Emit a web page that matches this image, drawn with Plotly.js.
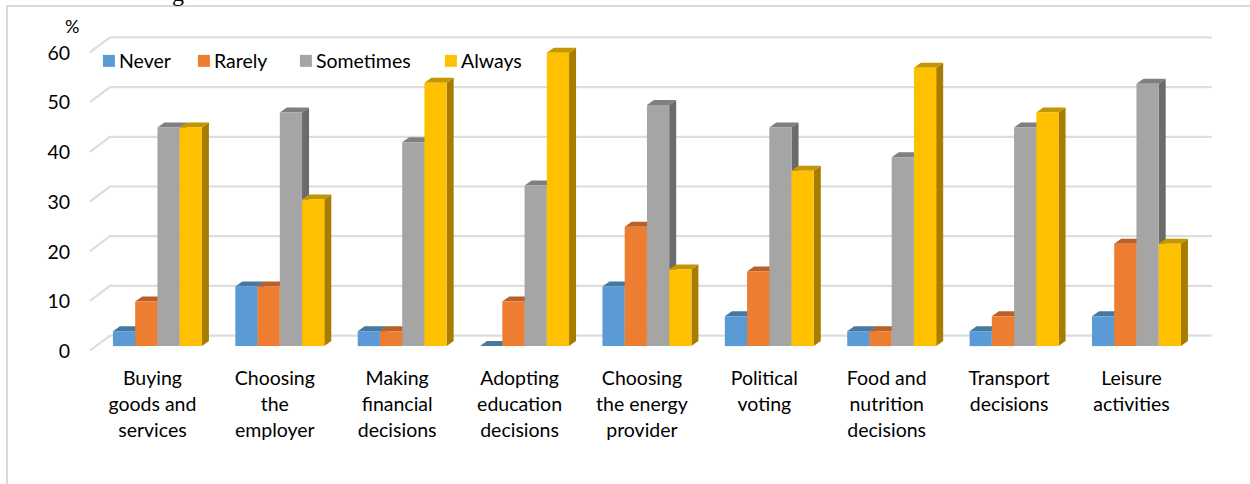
<!DOCTYPE html>
<html><head><meta charset="utf-8">
<script src="https://cdn.plot.ly/plotly-3.0.1.min.js"></script>
<style>html,body{margin:0;padding:0;background:#fff;overflow:hidden}</style>
</head><body><div id="chart" style="width:1250px;height:484px"></div>
<script>
const categories = [
  "Buying<br>goods and<br>services","Choosing<br>the<br>employer","Making<br>financial<br>decisions",
  "Adopting<br>education<br>decisions","Choosing<br>the energy<br>provider","Political<br>voting",
  "Food and<br>nutrition<br>decisions","Transport<br>decisions","Leisure<br>activities"];
const never     = [3, 12, 3, 0, 12, 6, 3, 3, 6];
const rarely    = [9, 12, 3, 9, 24, 15, 3, 6, 20.6];
const sometimes = [44, 47, 41, 32.3, 48.5, 44, 38, 44, 52.8];
const always    = [44, 29.5, 53, 59, 15.4, 35.3, 56, 47, 20.6];
const seriesNames = ["Never","Rarely","Sometimes","Always"];
const seriesValues = [never, rarely, sometimes, always];
const frontColors = ["#5B9BD5","#ED7D31","#A5A5A5","#FFC000"];
const topColors   = ["#47789F","#B95F27","#7F7F7F","#C49600"];
const sideColors  = ["#3B6A94","#A35422","#6B6B6B","#A67D00"];
const yTicks = [0,10,20,30,40,50,60];

// page geometry (pixels)
const W=1250,H=484, pxX=122.4, pxY=4.975, x0px=157.5, y0px=346.5;
const xr=[-0.6,8.65], yr=[-4,64];
const ml=x0px+xr[0]*pxX, mr=W-(x0px+xr[1]*pxX), mt=y0px-yr[1]*pxY, mb=H-(y0px-yr[0]*pxY);
const dx=px=>px/pxX, dy=px=>px/pxY;
const px2paperX=p=>(p-ml)/(W-ml-mr), px2paperY=p=>1-(p-mt)/(H-mt-mb);

const barW=0.727/4, depthX=7, depthY=5;
const shapes=[];
// frame
shapes.push({type:'path',xref:'paper',yref:'paper',layer:'below',line:{color:'#D9D9D9',width:2},
  path:`M${px2paperX(7)},${px2paperY(490)}L${px2paperX(7)},${px2paperY(6)}L${px2paperX(1255)},${px2paperY(6)}`});
// gridlines on floor/back wall
yTicks.forEach(v=>{
  const xa=xr[0]+dx(90-(x0px+xr[0]*pxX)), xb=xa+dx(20), xc=xa+dx(1122);
  const ya=v-dy(4.5), yb=v+dy(10.5);
  shapes.push({type:'path',xref:'x',yref:'y',layer:'below',line:{color:'#DDDDDD',width:2.2},
    path:`M${xa},${ya}L${xb},${yb}L${xc},${yb}`});
});
// bar sides and tops
categories.forEach((c,i)=>{
  seriesValues.forEach((vals,s)=>{
    const v=vals[i], l=i-0.727/2+s*barW, r=l+barW, ddx=dx(depthX), ddy=dy(depthY);
    shapes.push({type:'path',xref:'x',yref:'y',layer:'below',fillcolor:sideColors[s],line:{width:0},
      path:`M${r},0L${r+ddx},${ddy}L${r+ddx},${v+ddy}L${r},${v}Z`});
    shapes.push({type:'path',xref:'x',yref:'y',layer:'below',fillcolor:topColors[s],line:{width:0},
      path:`M${l},${v}L${l+ddx},${v+ddy}L${r+ddx},${v+ddy}L${r},${v}Z`});
  });
});
// legend
const legendSwatchPx=[103,198,300,445];
const legendTextPx=[117,212,314,459];
const annotations=[];
seriesNames.forEach((n,s)=>{
  shapes.push({type:'rect',xref:'paper',yref:'paper',layer:'above',fillcolor:frontColors[s],line:{width:0},
    x0:px2paperX(legendSwatchPx[s]),x1:px2paperX(legendSwatchPx[s]+12),y0:px2paperY(67),y1:px2paperY(55)});
  annotations.push({xref:'paper',yref:'paper',x:px2paperX(legendTextPx[s]),y:px2paperY(61),xanchor:'left',yanchor:'middle',
    showarrow:false,text:n,font:{family:'Lato, "Open Sans", sans-serif',size:19.5,color:'#000'}});
});
annotations.push({xref:'paper',yref:'paper',x:px2paperX(72),y:px2paperY(26),xanchor:'center',yanchor:'middle',showarrow:false,
  text:'%',font:{family:'Lato, sans-serif',size:18,color:'#000'}});
annotations.push({xref:'paper',yref:'paper',x:px2paperX(178),y:px2paperY(-7),xanchor:'center',yanchor:'middle',showarrow:false,
  text:'g',font:{family:'"Liberation Serif", serif',size:24,color:'#000'}});

const traces=seriesNames.map((n,s)=>({type:'bar',name:n,x:categories.map((c,i)=>i),y:seriesValues[s],
  marker:{color:frontColors[s],line:{width:0}},showlegend:false,hoverinfo:'y+name'}));
const layout={width:W,height:H,showlegend:false,paper_bgcolor:'#fff',plot_bgcolor:'rgba(0,0,0,0)',
  barmode:'group',bargap:0.273,bargroupgap:0,
  margin:{l:ml,r:mr,t:mt,b:mb,pad:0},
  font:{family:'Lato, "Open Sans", sans-serif',color:'#000'},
  xaxis:{range:xr,tickmode:'array',tickvals:categories.map((c,i)=>i),
    ticktext:categories.map(c=>`<span style="font-size:19.5px">${c.split('<br>').join('</span><br><span style="font-size:19.5px">')}</span>`),
    showgrid:false,zeroline:false,showline:false,ticks:'',tickangle:0,tickfont:{size:20,color:'#000'},
    ticklabelshift:-5,ticklabelstandoff:-2,automargin:false},
  yaxis:{range:yr,tickmode:'array',tickvals:yTicks,ticktext:yTicks.map(String),showgrid:false,zeroline:false,showline:false,ticks:'',
    tickfont:{size:19.5,color:'#000'},ticklabelshift:5,ticklabelstandoff:13,automargin:false},
  shapes,annotations};
Plotly.newPlot('chart',traces,layout,{displayModeBar:false,staticPlot:true});
</script></body></html>
